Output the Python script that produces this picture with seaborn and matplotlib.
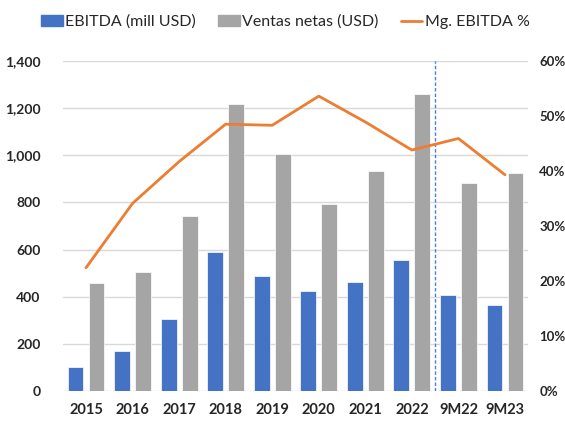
import numpy as np
import pandas as pd
import seaborn as sns
import matplotlib.pyplot as plt
from matplotlib.lines import Line2D
from matplotlib.patches import Patch
from matplotlib.ticker import FuncFormatter, PercentFormatter

periodos = ['2015', '2016', '2017', '2018', '2019', '2020', '2021', '2022', '9M22', '9M23']
ebitda = [100, 170, 307, 590, 489, 426, 463, 554, 406, 364]
ventas = [457, 503, 742, 1216, 1007, 792, 935, 1259, 884, 924]
margen = [22.4, 34.1, 41.7, 48.5, 48.3, 53.6, 48.9, 43.8, 45.9, 39.3]

serie_bar = ['EBITDA (mill USD)', 'Ventas netas (USD)']
serie_linea = 'Mg. EBITDA %'

AZUL = '#4472C4'
GRIS = '#A5A5A5'
NARANJA = '#ED7D31'

df = pd.DataFrame({
    'periodo': periodos * 2,
    'valor': ebitda + ventas,
    'serie': [serie_bar[0]] * len(periodos) + [serie_bar[1]] * len(periodos),
})

sns.set_style('white')
plt.rcParams['font.family'] = ['Lato', 'DejaVu Sans']

fig = plt.figure(figsize=(5.65, 4.21), dpi=100)
ax = fig.add_axes([0.111, 0.0713, 0.824, 0.784])

sns.barplot(data=df, x='periodo', y='valor', hue='serie', order=periodos,
            palette=[AZUL, GRIS], saturation=1, width=0.9, gap=0.24,
            edgecolor='white', linewidth=0.5, ax=ax)
ax.get_legend().remove()

ax.set_ylim(0, 1400)
ax.set_yticks(range(0, 1401, 200))
ax.yaxis.set_major_formatter(FuncFormatter(lambda v, p: f'{int(v):,}'))
ax.set_xlim(-0.5, len(periodos) - 0.5)
ax.grid(axis='y', color='#d9d9d9', linewidth=1)
ax.set_axisbelow(True)
for s in ax.spines.values():
    s.set_visible(False)
ax.set_xlabel('')
ax.set_ylabel('')
ax.tick_params(axis='y', length=0, pad=16, labelsize=10)
ax.tick_params(axis='x', length=0, pad=9, labelsize=10.5)
for t in ax.get_xticklabels() + ax.get_yticklabels():
    t.set_fontweight('bold')

# separador entre anual y 9 meses
sep = periodos.index('9M22') - 0.5
ax.axvline(sep, color='#4A7FE0', linestyle=(0, (2.5, 1.5)), linewidth=1)

ax2 = ax.twinx()
sns.lineplot(x=periodos, y=margen, color=NARANJA, linewidth=2, sort=False, ax=ax2)
ax2.set_ylim(0, 60)
ax2.set_yticks(range(0, 61, 10))
ax2.yaxis.set_major_formatter(PercentFormatter(decimals=0))
for s in ax2.spines.values():
    s.set_visible(False)
ax2.tick_params(axis='y', length=0, pad=8, labelsize=9.5)
for t in ax2.get_yticklabels():
    t.set_fontweight('bold')
ax2.grid(False)

handles = [Patch(color=AZUL), Patch(color=GRIS),
           Line2D([], [], color=NARANJA, linewidth=2)]
fig.legend(handles, serie_bar + [serie_linea], loc='center', ncol=3,
           bbox_to_anchor=(0.505, 0.948), frameon=False, fontsize=11.5,
           handlelength=1.35, handleheight=0.6, handletextpad=0.15,
           columnspacing=1.4)

fig.savefig('out.png', dpi=100)
